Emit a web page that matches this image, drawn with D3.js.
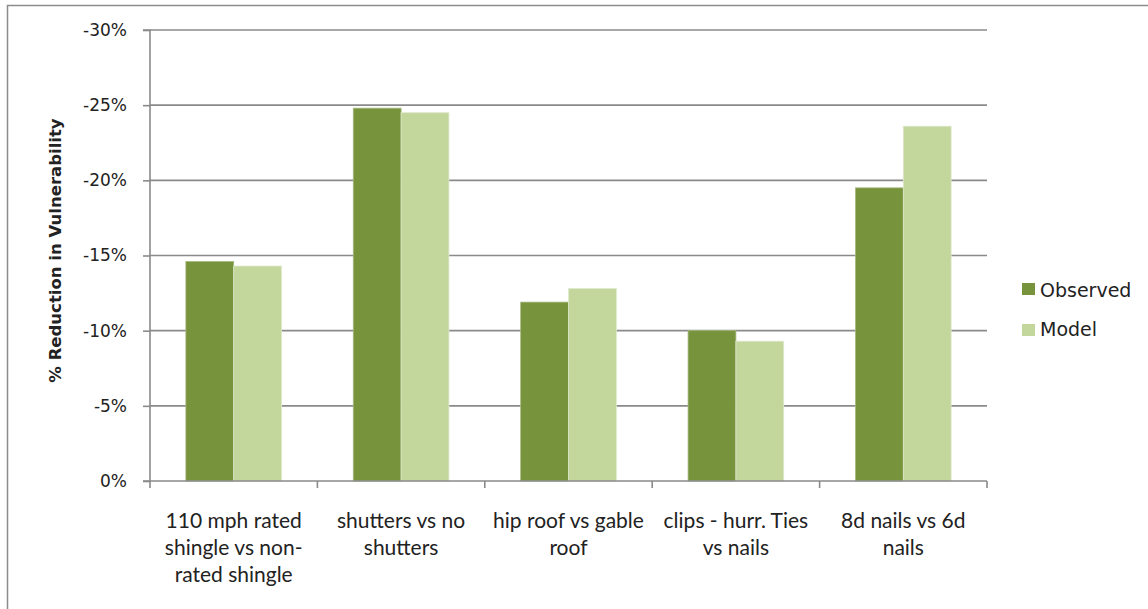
<!DOCTYPE html>
<html><head><meta charset="utf-8">
<script src="https://cdn.jsdelivr.net/npm/d3@7"></script>
<style>body{margin:0;background:#fff}svg{display:block}</style>
</head><body>
<svg id="c" width="1148" height="609"></svg>
<script>
const categories = [
  ["110 mph rated", "shingle vs non-", "rated shingle"],
  ["shutters vs no", "shutters"],
  ["hip roof vs gable", "roof"],
  ["clips - hurr. Ties", "vs nails"],
  ["8d nails vs 6d", "nails"]
];
const seriesNames = ["Observed", "Model"];
const observed = [-14.6, -24.8, -11.9, -10.0, -19.5];
const model = [-14.3, -24.5, -12.8, -9.3, -23.6];
const yTicks = [0, -5, -10, -15, -20, -25, -30];
const colors = ["#77933C", "#C3D69B"];

(function () {
const svg = d3.select("#c");
svg.append("rect").attr("x", 7.5).attr("y", 5.5).attr("width", 1160).attr("height", 620)
  .attr("fill", "#fff").attr("stroke", "#8c8c8c").attr("stroke-width", 1.5);

const pLeft = 150, pRight = 987, pTop = 30, pBottom = 481;
const x = d3.scaleBand().domain(d3.range(categories.length)).range([pLeft, pRight]);
const xs = d3.scaleBand().domain(seriesNames).range([0, x.bandwidth()]).paddingOuter(0.75).paddingInner(0);
const y = d3.scaleLinear().domain([0, -30]).range([pBottom, pTop]);

svg.append("g").selectAll("line").data(yTicks.filter(d => d !== 0)).join("line")
  .attr("x1", pLeft).attr("x2", pRight).attr("y1", d => y(d)).attr("y2", d => y(d))
  .attr("stroke", "#8a8a8a").attr("stroke-width", 1.6);

const data = seriesNames.map((s, i) => ({name: s, values: i === 0 ? observed : model, color: colors[i]}));
const g = svg.append("g");
data.forEach(s => {
  g.selectAll(null).data(s.values).join("rect")
    .attr("x", (d, i) => x(i) + xs(s.name))
    .attr("width", xs.bandwidth())
    .attr("y", d => y(d))
    .attr("height", d => y(0) - y(d))
    .attr("fill", s.color)
    .attr("stroke", s.name === "Observed" ? "#a5b97f" : "#dfe9cd")
    .attr("stroke-width", 0.8);
});

const yAxis = d3.axisLeft(y).tickValues(yTicks).tickSize(7).tickPadding(16)
  .tickFormat(d => String(d) + "%");
const ya = svg.append("g").attr("transform", `translate(${pLeft},0)`).call(yAxis);
ya.select(".domain").attr("stroke", "#8a8a8a").attr("stroke-width", 1.6).attr("d", `M-7,${pTop}H0V${pBottom}H-7`);
ya.selectAll(".tick line").attr("stroke", "#8a8a8a").attr("stroke-width", 1.6);
ya.selectAll(".tick text").attr("font-family", "DejaVu Sans").attr("font-size", 17).attr("fill", "#222");

svg.append("line").attr("x1", pLeft).attr("x2", pRight).attr("y1", pBottom).attr("y2", pBottom)
  .attr("stroke", "#8a8a8a").attr("stroke-width", 1.6);
svg.append("g").selectAll("line").data(d3.range(categories.length + 1)).join("line")
  .attr("x1", i => pLeft + i * x.step()).attr("x2", i => pLeft + i * x.step())
  .attr("y1", pBottom).attr("y2", pBottom + 7)
  .attr("stroke", "#8a8a8a").attr("stroke-width", 1.6);

const cl = svg.append("g");
categories.forEach((lines, i) => {
  const t = cl.append("text").attr("text-anchor", "middle")
    .attr("font-family", "Lato, sans-serif").attr("font-size", 21).attr("fill", "#222");
  lines.forEach((ln, j) => t.append("tspan").attr("x", x(i) + x.bandwidth() / 2).attr("y", 528 + j * 27).text(ln));
});

svg.append("text").attr("transform", `translate(61,${(pTop + pBottom) / 2 - 5}) rotate(-90)`)
  .attr("text-anchor", "middle").attr("font-family", "DejaVu Sans").attr("font-weight", "bold")
  .attr("font-size", 16.5).attr("fill", "#222").text("% Reduction in Vulnerability");

const lg = svg.append("g");
data.forEach((s, i) => {
  lg.append("rect").attr("x", 1022).attr("y", 283 + i * 41).attr("width", 13).attr("height", 12).attr("fill", s.color);
  lg.append("text").attr("x", 1040).attr("y", 297 + i * 39).attr("font-family", "DejaVu Sans")
    .attr("font-size", 19).attr("fill", "#222").text(s.name);
});
})();
</script>
</body></html>
